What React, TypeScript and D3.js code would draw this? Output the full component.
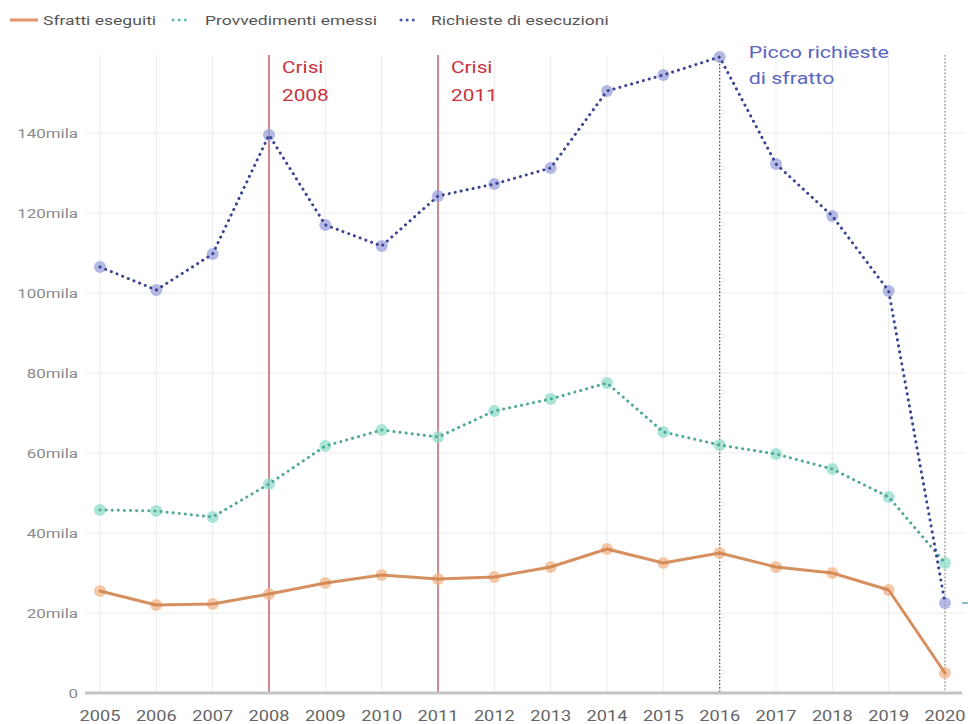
import React from "react";
import * as d3 from "d3";

const years = [2005, 2006, 2007, 2008, 2009, 2010, 2011, 2012, 2013, 2014, 2015, 2016, 2017, 2018, 2019, 2020];
const sfratti = [25.5, 22, 22.25, 24.75, 27.5, 29.5, 28.5, 29, 31.5, 36, 32.5, 35, 31.5, 30, 25.75, 5];
const provvedimenti = [45.75, 45.5, 44, 52.25, 61.75, 65.75, 64, 70.5, 73.5, 77.5, 65.25, 62, 59.75, 56, 49, 32.5];
const richieste = [106.5, 100.75, 109.75, 139.5, 117, 111.75, 124.25, 127.25, 131.25, 150.5, 154.5, 159, 132.25, 119.25, 100.5, 22.5];
const yTicks = [0, 20, 40, 60, 80, 100, 120, 140];
const yTickLabels = ["0", "20mila", "40mila", "60mila", "80mila", "100mila", "120mila", "140mila"];
const crisisYears = [2008, 2011];
const crisisLabels = [["Crisi", "2008"], ["Crisi", "2011"]];
const peakYear = 2016;
const peakLabel = ["Picco richieste", "di sfratto"];
const legendLabels = ["Sfratti eseguiti", "Provvedimenti emessi", "Richieste di esecuzioni"];

const SX = 1.3;

function T(props: { x: number; y: number; size: number; fill: string; anchor?: string; children: React.ReactNode }) {
  return (
    <text transform={`translate(${props.x},${props.y}) scale(${SX},1)`} fontSize={props.size} fill={props.fill}
      textAnchor={props.anchor || "start"}>{props.children}</text>
  );
}

export default function App() {
  const W = 968, H = 724;
  const x = d3.scaleLinear().domain([2005, 2020]).range([100, 945]);
  const y = d3.scaleLinear().domain([0, 160]).range([693, 53]);
  const top = 55;
  const line = d3.line<number>().x((_, i) => x(years[i])).y(d => y(d));
  const font = "Roboto, 'Noto Sans', sans-serif";

  const series = [
    { data: sfratti, stroke: "#d2844f", marker: "#f0b48a", dash: null, width: 3 },
    { data: provvedimenti, stroke: "#4fa898", marker: "#8fdccb", dash: "0.1 6", width: 3 },
    { data: richieste, stroke: "#3c4494", marker: "#9aa0dc", dash: "0.1 6", width: 3 },
  ];

  return (
    <svg width={W} height={H} style={{ position: "absolute", left: 0, top: 0, background: "#fff" }} fontFamily={font}>
      {/* legend */}
      <line x1={10} x2={38} y1={20} y2={20} stroke="#e0956a" strokeWidth={3} />
      <T x={43} y={25} size={13.5} fill="#555">{legendLabels[0]}</T>
      <line x1={173} x2={190} y1={20} y2={20} stroke="#5bbfae" strokeWidth={3} strokeDasharray="0.1 6" strokeLinecap="round" />
      <T x={205} y={25} size={13.5} fill="#555">{legendLabels[1]}</T>
      <line x1={401} x2={418} y1={20} y2={20} stroke="#4a55a8" strokeWidth={3} strokeDasharray="0.1 6" strokeLinecap="round" />
      <T x={431} y={25} size={13.5} fill="#555">{legendLabels[2]}</T>

      {/* grid */}
      {yTicks.filter(t => t > 0).map(t => (
        <line key={t} x1={85} x2={965} y1={y(t)} y2={y(t)} stroke="#ebebeb" strokeWidth={1} />
      ))}
      {years.map(yr => (
        <line key={yr} x1={x(yr)} x2={x(yr)} y1={top} y2={693} stroke="#ebebeb" strokeWidth={1} />
      ))}
      {yTicks.map((t, i) => (
        <T key={t} x={78} y={y(t) + 5} anchor="end" size={13} fill="#8a8a8a">{yTickLabels[i]}</T>
      ))}
      {years.map(yr => (
        <T key={yr} x={x(yr)} y={721} anchor="middle" size={14} fill="#666">{yr}</T>
      ))}

      {/* annotations */}
      {crisisYears.map((yr, i) => (
        <g key={yr}>
          <line x1={x(yr)} x2={x(yr)} y1={top} y2={693} stroke="#c4646c" strokeWidth={1.5} />
          <T x={x(yr) + 13} y={73} size={16} fill="#c8323c">{crisisLabels[i][0]}</T>
          <T x={x(yr) + 13} y={101} size={16} fill="#c8323c">{crisisLabels[i][1]}</T>
        </g>
      ))}
      <line x1={x(peakYear)} x2={x(peakYear)} y1={y(richieste[11])} y2={693} stroke="#555" strokeWidth={1.3} strokeDasharray="1.5 2" />
      <line x1={x(2020)} x2={x(2020)} y1={top} y2={693} stroke="#777" strokeWidth={1} strokeDasharray="1.5 2" />
      <T x={x(peakYear) + 29} y={58} size={16.5} fill="#5a66c0">{peakLabel[0]}</T>
      <T x={x(peakYear) + 29} y={84} size={16.5} fill="#5a66c0">{peakLabel[1]}</T>

      {/* axis */}
      <line x1={85} x2={962} y1={693} y2={693} stroke="#c4c4c4" strokeWidth={3} />

      {/* series */}
      {series.map((s, si) => (
        <g key={si}>
          {s.data.map((v, i) => (
            <circle key={i} cx={x(years[i])} cy={y(v)} r={6} fill={s.marker} opacity={0.75} />
          ))}
          <path d={line(s.data) || ""} fill="none" stroke={s.stroke} strokeWidth={s.width}
            strokeDasharray={s.dash || undefined} strokeLinecap="round" strokeLinejoin="round" opacity={si === 0 ? 0.9 : 1} />
        </g>
      ))}
      <line x1={962} x2={968} y1={603} y2={603} stroke="#8fb8b8" strokeWidth={2} />
    </svg>
  );
}
